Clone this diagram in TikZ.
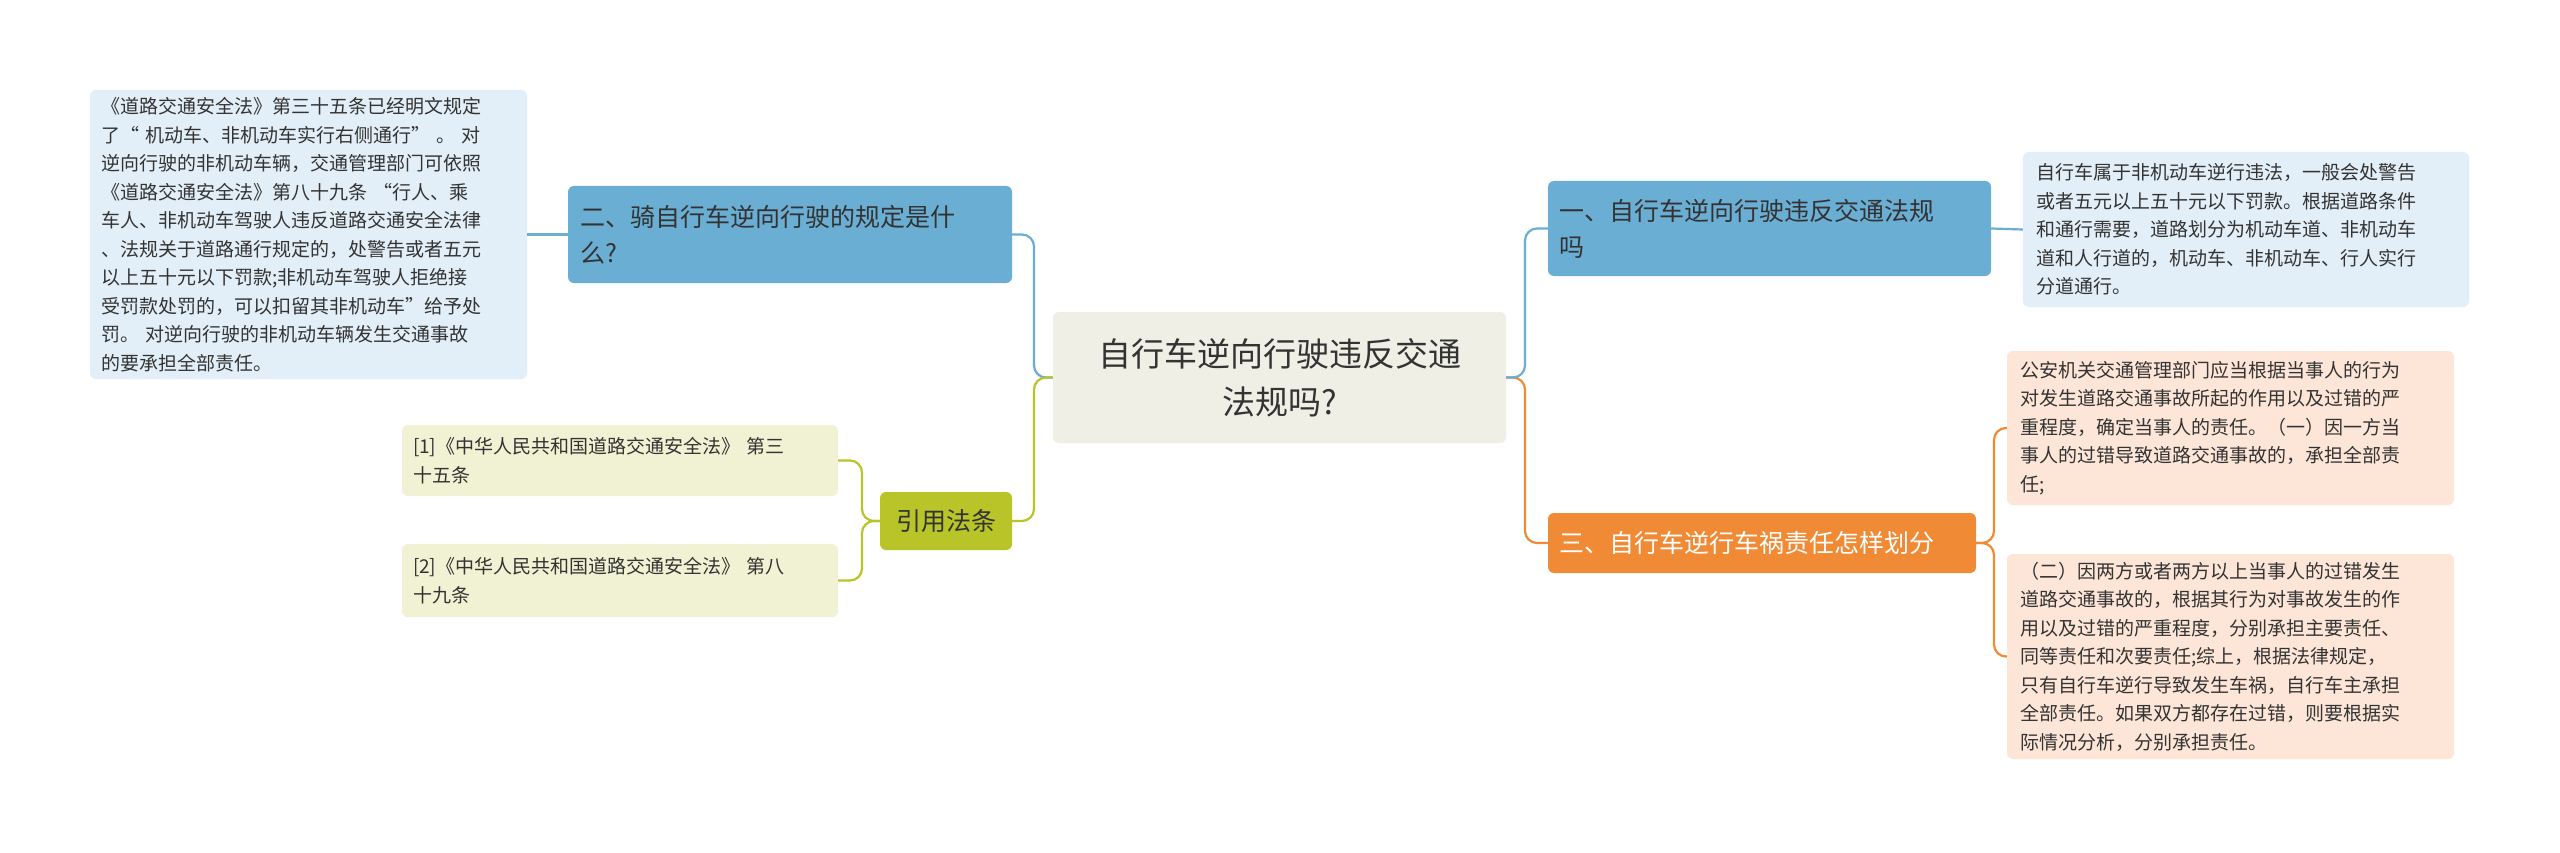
\documentclass[tikz,border=0pt]{standalone}
\usepackage{fontspec}
\setmainfont{Noto Sans CJK SC}
\definecolor{cbg}{HTML}{EFEFE6}
\definecolor{blu}{HTML}{6BAED3}
\definecolor{blul}{HTML}{E3EFF8}
\definecolor{grn}{HTML}{B8C427}
\definecolor{grnl}{HTML}{F1F2D3}
\definecolor{org}{HTML}{F08A35}
\definecolor{orgl}{HTML}{FDE6D8}
\definecolor{txt}{HTML}{333333}
\tikzset{
 box/.style={rounded corners=6pt, inner sep=0pt, text=txt},
 leaf/.style={box, align=left, font=\fontsize{19}{28.5}\selectfont},
 br/.style={box, align=left, font=\fontsize{25}{36}\selectfont},
 con/.style={line width=2.2pt, rounded corners=12pt},
}
\begin{document}
\begin{tikzpicture}[x=1pt,y=-1pt]
\useasboundingbox (0,0) rectangle (2560,853);
\fill[white] (0,0) rectangle (2560,853);
% center
\node[box, fill=cbg, minimum width=453, minimum height=131, align=center, font=\fontsize{33}{48}\selectfont, text=txt] (c) at (1279.5,377.5) {自行车逆向行驶违反交通\\法规吗?};
% left blue
\node[br, fill=blu, minimum width=444, minimum height=97, text width=420, text=txt] (l1) at (790,234.5) {二、骑自行车逆向行驶的规定是什\\么?};
\node[leaf, fill=blul, minimum width=437, minimum height=289, text width=415] (l1a) at (308.5,234.5) {《道路交通安全法》第三十五条已经明文规定\\了“ 机动车、非机动车实行右侧通行” 。 对\\逆向行驶的非机动车辆，交通管理部门可依照\\《道路交通安全法》第八十九条 “行人、乘\\车人、非机动车驾驶人违反道路交通安全法律\\、法规关于道路通行规定的，处警告或者五元\\以上五十元以下罚款;非机动车驾驶人拒绝接\\受罚款处罚的，可以扣留其非机动车”给予处\\罚。 对逆向行驶的非机动车辆发生交通事故\\的要承担全部责任。};
% green
\node[br, fill=grn, minimum width=132, minimum height=58, align=center] (g) at (946,521) {引用法条};
\node[leaf, fill=grnl, minimum width=436, minimum height=71, text width=414] (g1) at (620,460.5) {[1]《中华人民共和国道路交通安全法》 第三\\十五条};
\node[leaf, fill=grnl, minimum width=436, minimum height=73, text width=414] (g2) at (620,580.5) {[2]《中华人民共和国道路交通安全法》 第八\\十九条};
% right blue
\node[br, fill=blu, minimum width=443, minimum height=95, text width=420] (r1) at (1769.5,228.5) {一、自行车逆向行驶违反交通法规\\吗};
\node[leaf, fill=blul, minimum width=446, minimum height=155, text width=420] (r1a) at (2246,229.5) {自行车属于非机动车逆行违法，一般会处警告\\或者五元以上五十元以下罚款。根据道路条件\\和通行需要，道路划分为机动车道、非机动车\\道和人行道的，机动车、非机动车、行人实行\\分道通行。};
% right orange
\node[br, fill=org, minimum width=428, minimum height=60, text width=405, text=white] (r3) at (1762,543) {三、自行车逆行车祸责任怎样划分};
\node[leaf, fill=orgl, minimum width=447, minimum height=154, text width=420] (r3a) at (2230.5,428) {公安机关交通管理部门应当根据当事人的行为\\对发生道路交通事故所起的作用以及过错的严\\重程度，确定当事人的责任。（一）因一方当\\事人的过错导致道路交通事故的，承担全部责\\任;};
\node[leaf, fill=orgl, minimum width=447, minimum height=205, text width=420] (r3b) at (2230.5,656.5) {（二）因两方或者两方以上当事人的过错发生\\道路交通事故的，根据其行为对事故发生的作\\用以及过错的严重程度，分别承担主要责任、\\同等责任和次要责任;综上，根据法律规定，\\只有自行车逆行导致发生车祸，自行车主承担\\全部责任。如果双方都存在过错，则要根据实\\际情况分析，分别承担责任。};
% connectors
\coordinate (tl) at (1034,377.5);
\coordinate (tr) at (1525,377.5);
\draw[con, blu] (c.west) -- (tl) |- (l1.east);
\draw[con, grn] (c.west) -- (tl) |- (g.east);
\draw[con, org] (c.east) -- (tr) |- (r3.west);
\draw[con, blu] (c.east) -- (tr) |- (r1.west);
\draw[con, blu] (l1.west) -- (l1a.east);
\draw[con, blu] (r1.west) ++(0,0) (r1.east) -- (r1a.west);
\coordinate (tg) at (862,521);
\draw[con, grn] (g.west) -- (tg) |- (g1.east);
\draw[con, grn] (g.west) -- (tg) |- (g2.east);
\coordinate (to) at (1994,543);
\draw[con, org] (r3.east) -- (to) |- (r3a.west);
\draw[con, org] (r3.east) -- (to) |- (r3b.west);
\end{tikzpicture}
\end{document}
